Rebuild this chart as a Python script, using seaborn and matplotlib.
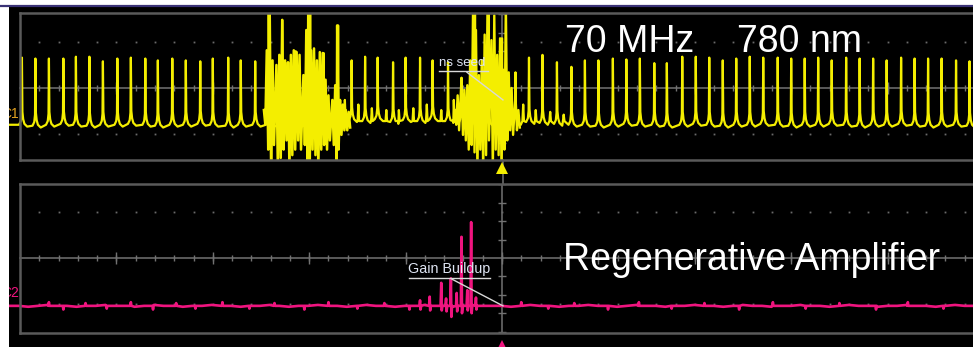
import numpy as np
import pandas as pd
import matplotlib
matplotlib.use("Agg")
import matplotlib.pyplot as plt
import seaborn as sns

# ---------------- data (time in ns, amplitude in mV; 100 ns/div) ----------------
# 70 MHz seed pulse train (channel 1)
seed_t = [-498, -484, -470, -455, -442, -428, -414, -399, -385, -370, -357, -342, -328, -313,
          -300, -284, -271, -256, -242, -228, -214, -199, -185, -170, -156, -142, -129, -113,
          -100, -85, -72, -56, -42, -28, -14, 0, 14, 28, 42, 57, 72, 86, 100, 115, 129, 143,
          158, 171, 187, 201, 215, 229, 243, 257, 271, 286, 300, 314, 328, 342, 357, 371, 385,
          399, 414, 428, 442, 456, 471, 485]
seed_peak = [33, 32, 32, 32, 34, 34, 29, 32, 33, 32, 30, 32, 30, 29, 32, 33, 30, 29,
             90, 74, 40, 90, 38, 68,
             30, 34, 33, 28, 33, 33, 30, 28, 11, 90, 90, 54, 17,
             33, 36, 28, 23, 30, 30, 32, 31, 32,
             27, 27, 34, 34, 33, 30, 32, 34, 33, 33, 32, 32, 33, 30, 33, 32, 32, 30, 33, 32,
             32, 32, 30, 29]
seed_base = [-40, -41, -40, -39, -40, -41, -40, -40, -39, -40, -41, -40, -40, -39, -40, -41, -40, -40,
             -40, -40, -40, -40, -40, -38,
             -35, -36, -34, -37, -35, -36, -34, -36, -38,
             -40, -40, -40, -38,
             -37, -38, -39, -40,
             -40, -41, -40, -39, -40, -40, -41, -40, -39, -40, -41, -40, -40, -39, -40, -41, -40,
             -40, -39, -40, -41, -40, -40, -39, -40, -41, -40, -40, -41]
# small secondary spikes on the seed baseline
extra_t = [-163, -149, -135, -120, -107, -92, -78, -63, -50, 22, 35, 50, 64]
extra_v = [-13, -18, -22, -24, -24, -22, -18, -24, -13, -18, -24, -26, -29]

# first burst (upper / lower excursions)
burst1_t = [-247, -244, -241, -238, -234, -231, -228, -225, -222, -219, -216, -213, -210, -206,
            -203, -201, -198, -195, -192, -189, -186, -183, -180, -176, -173, -171, -168, -165,
            -162, -159]
burst1_hi = [-24, 41, 90, 30, 25, 36, 74, 30, 28, 36, 41, 39, 36, 14, 63, 90, 41, 43, 30, 39,
             38, 9, -8, -13, 3, 68, -13, -18, -24, -26]
burst1_lo = [-40, -67, -90, -62, -90, -76, -67, -57, -90, -73, -67, -57, -67, -62, -90, -90, -67,
             -73, -90, -67, -62, -67, -57, -62, -90, -67, -51, -46, -46, -43]

# ns seed burst around the trigger
burst2_t = [-49, -46, -42, -39, -36, -33, -30, -27, -24, -21, -18, -15, -11, -8, -5, -2, 1, 4,
            7, 10, 14, 17]
burst2_hi = [-24, -8, 11, -2, 3, 30, 90, 63, 14, 30, 58, 90, 52, 79, 36, 54, 20, 90, 17, 0, -8, -24]
burst2_lo = [-40, -46, -51, -57, -67, -62, -70, -90, -67, -90, -73, -57, -90, -67, -73, -90, -67,
             -57, -46, -51, -46, -43]

# regenerative amplifier (channel 2): baseline samples every 10 ns and gain build-up spikes
amp_base = [-52, -52, -53, -52, -51, -52, -52, -53, -52, -52, -51, -52, -52, -53, -52, -51, -52,
            -52, -53, -52, -52, -51, -52, -52, -53, -52, -52, -51, -52, -53, -52, -52, -51, -52,
            -52, -53, -52, -51, -52, -52, -53, -52, -52, -51, -52, -52, -53, -52, -51, -52, -52,
            -52, -53, -52, -51, -52, -52, -53, -52, -52, -51, -52, -52, -53, -52, -51, -52, -52,
            -53, -52, -52, -51, -52, -52, -53, -52, -51, -52, -52, -53, -52, -52, -51, -52, -52,
            -53, -52, -51, -52, -52, -53, -52, -52, -51, -52, -52, -53, -52, -51, -52, -52, -53]
amp_blip_t = [-470, -455, -432, -410, -385, -362, -338, -318, -290, -262, -236, -205, -180, -150,
              -122, -96, 20, 48, 75, 110, 142, 176, 210, 246, 281, 315, 350, 388, 421, 458, 490]
amp_blip_v = [-48, -56, -49, -55, -48, -56, -49, -55, -48, -55, -49, -56, -48, -55, -49, -56,
              -48, -55, -49, -56, -48, -55, -49, -56, -48, -55, -49, -56, -48, -55, -49]
gain_t = [-85, -75, -63, -58, -53, -47, -42, -36, -32, -27]
gain_hi = [-46, -42, -27, -44, -22, -38, 23, -35, 39, -43]
gain_lo = [-56, -57, -57, -58, -64, -58, -60, -57, -60, -56]

# ---------------- styling ----------------
YEL = "#f4ee00"
MAG = "#f0147f"
FRAME = "#5a5a5a"
GRID = "#727272"
DOT = "#6a6a6a"
FONT = ["Liberation Sans", "DejaVu Sans"]

W, H = 973, 347
fig = plt.figure(figsize=(W / 100, H / 100), dpi=100, facecolor="white")


def px_box(x0, y0, x1, y1):
    return [x0 / W, 1 - y1 / H, (x1 - x0) / W, (y1 - y0) / H]


ax_bg = fig.add_axes(px_box(9, 6, 973, 347))
ax_bg.set_facecolor("black")
ax_bg.set_xticks([]); ax_bg.set_yticks([])
for s in ax_bg.spines.values():
    s.set_visible(False)
ax_bg.set_xlim(9, 973); ax_bg.set_ylim(347, 6)
# connecting centre line between the two graticules
ax_bg.plot([502.5, 502.5], [160, 184], color=GRID, lw=1.1)

fig.add_artist(plt.Line2D([0, 1], [1 - 5.5 / H, 1 - 5.5 / H], color="#3a3276", lw=1.6,
                          transform=fig.transFigure))

ax_top = fig.add_axes(px_box(9, 13, 984, 160))
ax_bot = fig.add_axes(px_box(9, 184, 984, 333))

XL = (-511.4, 500)


def graticule(ax, ylim):
    ax.set_facecolor("none")
    ax.set_xlim(*XL)
    ax.set_ylim(*ylim)
    ax.set_xticks([]); ax.set_yticks([])
    ax.set_xlabel(""); ax.set_ylabel("")
    for s in ["top", "bottom"]:
        ax.spines[s].set_bounds(-500, 500)
    ax.spines["left"].set_position(("data", -500))
    for s in ax.spines.values():
        s.set_color(FRAME)
        s.set_linewidth(1.8)
    ax.plot([-500, 500], [0, 0], color=GRID, lw=1.1, zorder=1)
    ax.plot([0, 0], [ylim[0], ylim[1]], color=GRID, lw=1.1, zorder=1)
    minor = np.arange(-480, 501, 20)
    ax.plot(minor, np.zeros(len(minor)), ls="none", marker="|", ms=4.5, mew=1.0, color=GRID, zorder=1)
    major = np.arange(-400, 501, 100)
    ax.plot(major, np.zeros(len(major)), ls="none", marker="|", ms=8.5, mew=1.0, color=GRID, zorder=1)
    vt = np.array([-80, -60, -40, -20, 20, 40, 60, 80])
    ax.plot(np.zeros(len(vt)), vt, ls="none", marker="_", ms=6, mew=1.0, color=GRID, zorder=1)
    for yy in (-50, 50):
        ax.plot(minor, np.full(len(minor), yy), ls="none", marker="s", ms=1.3, mew=0,
                color=DOT, zorder=1)


# ---- channel 1 trace ----
pts = [(XL[0], seed_base[0]), (XL[1], seed_base[-1])]
for t, p, b in zip(seed_t, seed_peak, seed_base):
    pts += [(t - 3.0, b), (t - 1.2, b + 4), (t - 0.4, b + 12), (t, p), (t + 0.5, b + 14),
            (t + 1.3, b + 6), (t + 2.6, b + 1), (t + 5.5, b - 2)]
for t, v in zip(extra_t, extra_v):
    pts += [(t - 0.8, -36), (t, v), (t + 0.8, -36)]
df_seed = pd.DataFrame(pts, columns=["t", "v"])
sns.lineplot(data=df_seed, x="t", y="v", ax=ax_top, color=YEL, lw=1.6, estimator=None, sort=True)


def zigzag(ts, hi, lo):
    out = []
    for t, h, l in zip(ts, hi, lo):
        out += [(t, h), (t + 1.5, l)]
    return pd.DataFrame(out, columns=["t", "v"])


sns.lineplot(data=zigzag(burst1_t, burst1_hi, burst1_lo), x="t", y="v", ax=ax_top, color=YEL,
             lw=1.8, estimator=None, sort=True)
sns.lineplot(data=zigzag(burst2_t, burst2_hi, burst2_lo), x="t", y="v", ax=ax_top, color=YEL,
             lw=1.7, estimator=None, sort=True)

# ---- channel 2 trace ----
amp_t = np.linspace(XL[0], XL[1], len(amp_base))
pts2 = list(zip(amp_t, amp_base))
for t, v in zip(amp_blip_t, amp_blip_v):
    pts2 += [(t - 0.6, -52), (t, v), (t + 0.6, -52)]
for t, h, l in zip(gain_t, gain_hi, gain_lo):
    pts2 += [(t - 0.7, -52), (t, h), (t + 0.5, l), (t + 1.2, -52)]
df_amp = pd.DataFrame(pts2, columns=["t", "v"])
sns.lineplot(data=df_amp, x="t", y="v", ax=ax_bot, color=MAG, lw=1.9, estimator=None, sort=True)

graticule(ax_top, (-78.3, 81.5))
graticule(ax_bot, (-81.5, 80.4))

# trigger markers
ax_top.plot([0], [-87.5], marker="^", ms=9, color=YEL, mew=0, clip_on=False)
ax_bot.plot([0], [-96], marker="^", ms=9, color=MAG, mew=0, clip_on=False)

# channel labels (partly hidden by the left edge)
ax_top.text(-501, -28, "C1", color="#e0a020", fontsize=10, ha="right", va="center",
            family=FONT, clip_on=True)
ax_bot.text(-501, -38, "C2", color=MAG, fontsize=10, ha="right", va="center",
            family=FONT, clip_on=True)

# scope annotations (drawn above the traces)
ANN = "#dfe5f3"
ax_top.text(-41.5, 20.5, "ns seed", color=ANN, fontsize=9.5, ha="center", va="bottom",
            family=FONT, zorder=10)
ax_top.plot([-65.4, -14.5], [18.5, 18.5], color="#d8d8d8", lw=1.0, zorder=10)
ax_top.plot([-36.3, 1], [17, -13], color="#d8d8d8", lw=1.0, zorder=10)
ax_bot.text(-55, -19.5, "Gain Buildup", color=ANN, fontsize=10.3, ha="center", va="bottom",
            family=FONT, zorder=10)
ax_bot.plot([-96.5, -12.4], [-21.7, -21.7], color="#d8d8d8", lw=1.0, zorder=10)
ax_bot.plot([-51.9, 1], [-23, -52], color="#d8d8d8", lw=1.0, zorder=10)

# slide labels
fig.text(565 / W, 1 - 52 / H, "70 MHz", color="white", fontsize=27, family=FONT, va="baseline")
fig.text(737 / W, 1 - 52 / H, "780 nm", color="white", fontsize=27, family=FONT, va="baseline")
fig.text(563 / W, 1 - 270 / H, "Regenerative Amplifier", color="white", fontsize=27,
         family=FONT, va="baseline")

fig.savefig("out.png", dpi=100, facecolor="white")
